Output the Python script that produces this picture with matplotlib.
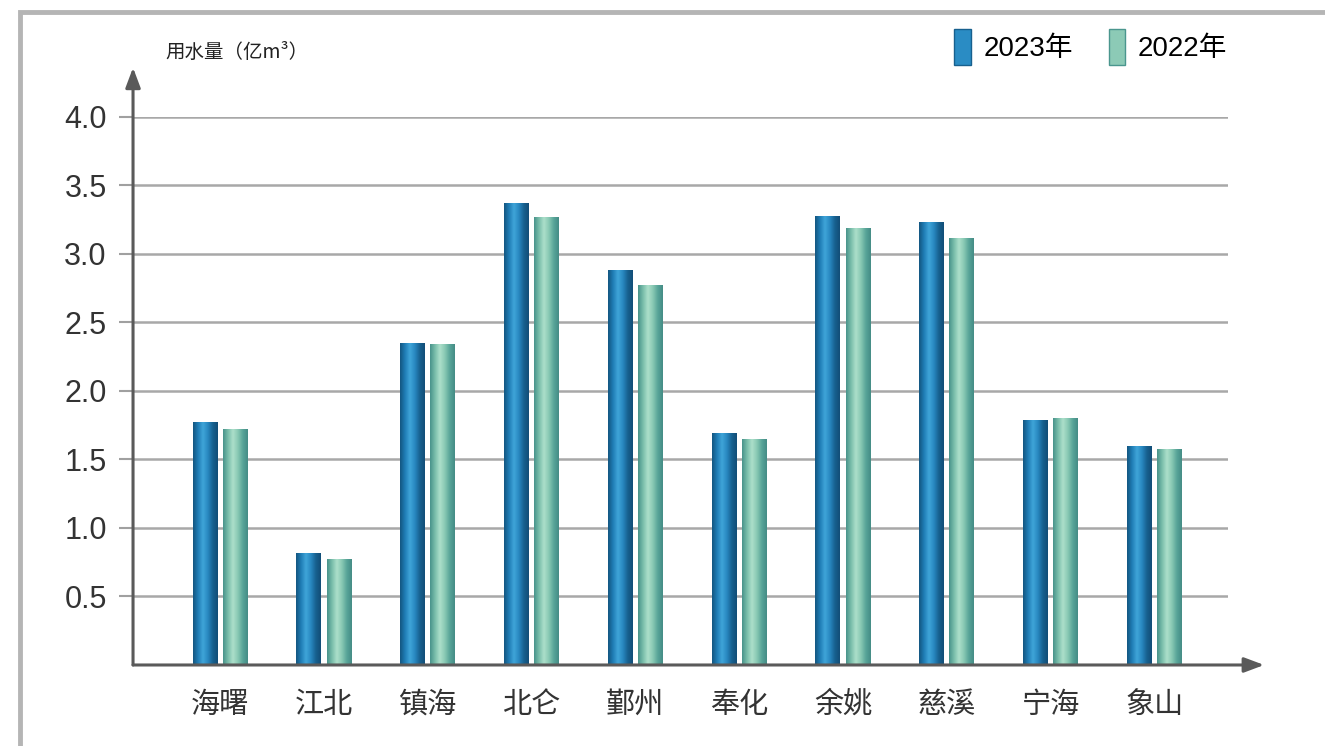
import numpy as np
import matplotlib
matplotlib.use("Agg")
import matplotlib.pyplot as plt
from matplotlib.colors import LinearSegmentedColormap
from matplotlib.patches import Rectangle, Patch

plt.rcParams['font.family'] = ['Noto Sans CJK SC', 'DejaVu Sans']

# === Data ===
districts = ["海曙", "江北", "镇海", "北仑", "鄞州", "奉化", "余姚", "慈溪", "宁海", "象山"]
use_2023 = [1.77, 0.82, 2.35, 3.37, 2.88, 1.69, 3.28, 3.23, 1.79, 1.60]
use_2022 = [1.72, 0.77, 2.34, 3.27, 2.77, 1.65, 3.19, 3.12, 1.80, 1.58]
y_ticks = [0.5, 1.0, 1.5, 2.0, 2.5, 3.0, 3.5, 4.0]
series_names = ["2023年", "2022年"]

# cylinder-like shading for the bars
cmap_23 = LinearSegmentedColormap.from_list(
    "c23", ["#13557f", "#1f7db5", "#40a5d9", "#2888c0", "#17608f", "#124d77"])
cmap_22 = LinearSegmentedColormap.from_list(
    "c22", ["#47928a", "#79bdaa", "#ade0cb", "#88c8b3", "#57a498", "#448c85"])

fig = plt.figure(figsize=(13.25, 7.46), dpi=100)
ax = fig.add_axes([0.1004, 0.1086, 0.8264, 0.7346])

# outer frame
fig.patches.append(Rectangle((20 / 1325, -0.05), 1.1, (746 - 12) / 746 + 0.05,
                             transform=fig.transFigure, fill=False,
                             edgecolor="#b5b5b5", linewidth=3.5, zorder=0))

x = np.arange(len(districts))
w = 0.24
off = 0.145
bars23 = ax.bar(x - off, use_2023, w, color="#2a8cc4", zorder=2)
bars22 = ax.bar(x + off, use_2022, w, color="#8ccab6", zorder=2)

grad = np.linspace(0, 1, 256).reshape(1, -1)
for bars, cm in [(bars23, cmap_23), (bars22, cmap_22)]:
    for b in bars:
        x0, h, bw = b.get_x(), b.get_height(), b.get_width()
        im = ax.imshow(grad, cmap=cm, aspect="auto", extent=(x0, x0 + bw, 0, h),
                       zorder=3, interpolation="bicubic")
        im.set_clip_path(b)

ax.set_xlim(-0.84, len(districts) - 1 + 0.71)
ax.set_ylim(0, 4.0)

ax.set_yticks(y_ticks)
ax.set_yticklabels([f"{v:.1f}" for v in y_ticks], fontsize=22, color="#333333",
                   family=["Liberation Sans", "DejaVu Sans"])
ax.set_xticks(x)
ax.set_xticklabels(districts, fontsize=21, color="#333333")
ax.tick_params(axis="y", length=10, width=1.5, color="#a0a0a0", pad=9)
ax.tick_params(axis="x", length=0, pad=18)
ax.grid(axis="y", color="#a8a8a8", linewidth=1.8, zorder=1)
ax.set_axisbelow(True)

for s in ax.spines.values():
    s.set_visible(False)

# axes with arrow heads
axis_col = "#5a5a5a"
ax.annotate("", xy=(0, 1.09), xytext=(0, 0), xycoords="axes fraction",
            arrowprops=dict(arrowstyle="-|>,head_length=1.2,head_width=0.45",
                            color=axis_col, lw=2.2, shrinkA=0, shrinkB=0),
            annotation_clip=False, zorder=5)
ax.annotate("", xy=(1.033, 0), xytext=(0, 0), xycoords="axes fraction",
            arrowprops=dict(arrowstyle="-|>,head_length=1.2,head_width=0.45",
                            color=axis_col, lw=2.2, shrinkA=0, shrinkB=0),
            annotation_clip=False, zorder=5)

fig.text(165 / 1325, 1 - 52 / 746, "用水量（亿m³）", fontsize=14, color="#222222",
         va="center", ha="left")

handles = [Patch(facecolor="#2a8cc4", edgecolor="#17608e"),
           Patch(facecolor="#8ccab6", edgecolor="#4a968e")]
fig.legend(handles, series_names, loc="center left", bbox_to_anchor=(954 / 1325, 1 - 47 / 746),
           ncol=2, frameon=False, handlelength=0.6, handleheight=1.6,
           handletextpad=0.45, columnspacing=1.3, borderpad=0, borderaxespad=0,
           prop={"family": ["Liberation Sans", "Noto Sans CJK SC"], "size": 20})

fig.savefig("out.png", dpi=100)
